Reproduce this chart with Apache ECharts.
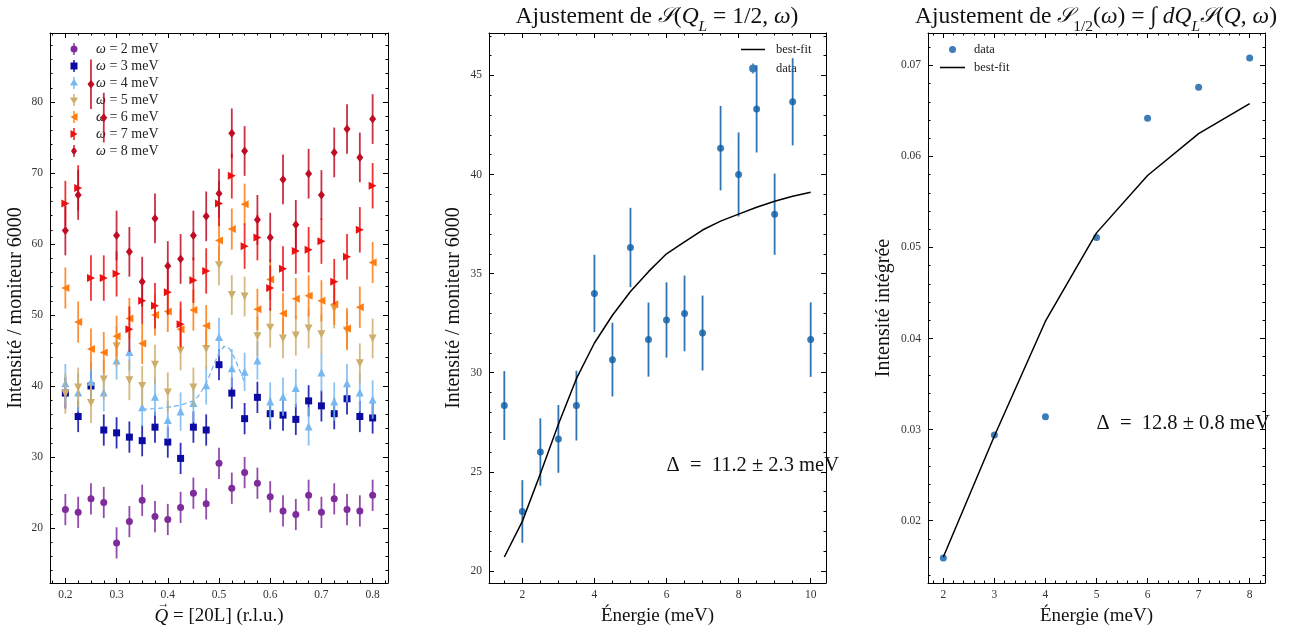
<!DOCTYPE html>
<html><head><meta charset="utf-8">
<script src="https://cdn.jsdelivr.net/npm/echarts@6/dist/echarts.min.js"></script>
<style>html,body{margin:0;padding:0;background:#fff}#c{width:1294px;height:634px}</style>
</head><body><div id="c"></div><script>
// ---------------- DATA ----------------
const qL = [0.2,0.225,0.25,0.275,0.3,0.325,0.35,0.375,0.4,0.425,0.45,0.475,0.5,0.525,0.55,0.575,0.6,0.625,0.65,0.675,0.7,0.725,0.75,0.775,0.8];
const omegaValues = [2,3,4,5,6,7,8];
const w2 = [22.6,22.2,24.1,23.6,17.9,20.9,23.9,21.6,21.2,22.9,24.9,23.4,29.1,25.6,27.8,26.3,24.4,22.4,21.9,24.6,22.2,24.1,22.6,22.4,24.6];
const w3 = [39.0,35.7,40.0,33.8,33.4,32.8,32.3,34.2,32.1,29.8,34.2,33.8,43.0,39.0,35.4,38.4,36.1,35.9,35.3,37.9,37.2,36.1,38.2,35.7,35.5];
const w4 = [40.4,39.1,40.6,39.1,43.6,44.8,37.0,38.5,35.2,36.4,37.6,40.1,46.9,42.5,42.0,43.6,37.8,38.5,39.7,34.3,41.9,37.8,40.4,39.1,38.1];
const w5 = [38.9,39.8,37.6,40.9,45.6,40.8,40.0,43.0,39.1,45.0,39.8,45.2,57.0,52.8,52.6,47.0,48.2,46.7,47.1,48.1,47.3,50.9,47.8,43.2,46.7];
const w6 = [53.8,49.0,45.2,44.7,47.0,49.5,46.0,50.0,50.5,48.0,50.7,48.5,60.5,62.1,65.6,50.8,55.0,50.2,52.3,52.7,52.0,51.5,48.1,51.1,57.4];
const w7 = [65.7,67.9,55.2,55.2,55.8,48.0,52.0,51.3,53.2,48.7,54.9,56.2,65.7,69.6,59.7,60.9,53.8,56.5,59.0,59.2,60.4,54.7,58.2,62.0,68.2];
const w8 = [61.9,66.9,82.5,77.8,61.2,58.9,54.7,63.6,56.9,57.9,61.2,63.9,67.1,75.6,73.1,63.4,60.9,69.1,62.7,69.9,66.9,72.9,76.2,72.2,77.6];
const wErr = [2.2,2.2,2.7,2.8,2.9,3.2,3.5];
// dashed fit (omega = 4)
const fitQx = [0.35,0.375,0.4,0.425,0.45,0.46,0.47,0.48,0.49,0.5,0.51,0.52,0.53,0.54,0.55];
const fitQy = [36.7,36.8,37.0,37.3,37.9,38.6,39.7,41.2,43.0,44.7,45.6,45.3,44.0,42.3,40.5];

// middle panel
const energyA = [1.5,2,2.5,3,3.5,4,4.5,5,5.5,6,6.5,7,7.5,8,8.5,9,9.5,10];
const intensA = [28.34,23.0,26.0,26.66,28.34,34.0,30.66,36.32,31.67,32.66,32.99,32.0,41.33,40.0,43.31,38.0,43.67,31.67];
const errA    = [1.74,1.58,1.7,1.71,1.76,1.95,1.86,2.0,1.87,1.9,1.91,1.89,2.13,2.12,2.2,2.05,2.2,1.88];
const fitA    = [20.7,22.5,24.9,27.4,29.7,31.5,32.9,34.1,35.1,36.0,36.6,37.2,37.65,38.0,38.35,38.65,38.9,39.1];

// right panel
const energyB = [2,3,4,5,6,7,8];
const intensB = [0.0159,0.0294,0.0314,0.0511,0.0642,0.0676,0.0708];
const fitB    = [0.0160,0.0293,0.0419,0.0516,0.0579,0.0625,0.0658];

// tick labels
const ticksX0 = [0.2,0.3,0.4,0.5,0.6,0.7,0.8];
const ticksY0 = [20,30,40,50,60,70,80];
const ticksX1 = [2,4,6,8,10];
const ticksY1 = [20,25,30,35,40,45];
const ticksX2 = [2,3,4,5,6,7,8];
const ticksY2 = [0.02,0.03,0.04,0.05,0.06,0.07];

// ---------------- STYLE ----------------
const FONT = 'Liberation Serif';
const wColors = ['#7F2B9B','#0B0BA3','#78B8F0','#CDAE6C','#FF7D12','#EC1010','#C00D25'];
const wSymbols = ['circle','rect','triangle','path://M0,0 L10,0 L5,9 Z','path://M9,0 L9,10 L0,5 Z','path://M0,0 L0,10 L9,5 Z','diamond'];
const wSizes = [7,7,8,8,8,8,[7,9]];
const BAR = ' M7.3,0 L8.7,0 L8.7,12 L7.3,12 Z';
const wLegendIcons = [
  'path://M4.5,6 A3.5,3.5 0 1 1 11.5,6 A3.5,3.5 0 1 1 4.5,6 Z' + BAR,
  'path://M4.5,2.5 L11.5,2.5 L11.5,9.5 L4.5,9.5 Z' + BAR,
  'path://M8,1.5 L12,8.5 L4,8.5 Z' + BAR,
  'path://M4,3.5 L12,3.5 L8,10.5 Z' + BAR,
  'path://M11.5,2 L11.5,10 L4.5,6 Z' + BAR,
  'path://M4.5,2 L11.5,6 L4.5,10 Z' + BAR,
  'path://M8,1.5 L11,6 L8,10.5 L5,6 Z' + BAR
];
const ICON_LINE = 'path://M0,0 L24,0 L24,1.5 L0,1.5 Z';
const ICON_DATA_ERR = 'path://M1.5,5 A3.5,3.5 0 1 1 8.5,5 A3.5,3.5 0 1 1 1.5,5 Z M4.3,0.5 L5.7,0.5 L5.7,9.5 L4.3,9.5 Z';
const ICON_DATA = 'path://M0,3.5 A3.5,3.5 0 1 1 7,3.5 A3.5,3.5 0 1 1 0,3.5 Z';
const BLUE = '#0C5DA5';

function range(a, b, s) { const out = []; const n = Math.round((b - a) / s); for (let i = 0; i <= n; i++) out.push(+(a + i * s).toFixed(6)); return out; }

function axes(dim, grid, min, max, major, minor, decimals, name, nameGap) {
  const posA = dim === 'x' ? 'bottom' : 'left';
  const posB = dim === 'x' ? 'top' : 'right';
  const fs = dim === 'x' ? 19 : 20;
  const line = { show: true, lineStyle: { color: '#000', width: 1 } };
  const base = { type: 'value', gridIndex: grid, min: min, max: max, splitLine: { show: false } };
  const tick = (vals, len) => ({ show: true, inside: true, length: len, customValues: vals, lineStyle: { color: '#000', width: 1 } });
  const main = Object.assign({}, base, {
    position: posA, axisLine: line, axisTick: tick(major, 5),
    axisLabel: { show: true, customValues: major, formatter: v => (+v).toFixed(decimals), fontFamily: FONT, fontSize: 11.5, color: '#333', margin: dim === 'x' ? 6 : 7 },
    name: name, nameLocation: 'middle', nameGap: nameGap,
    nameTextStyle: { fontFamily: FONT, fontSize: fs, color: '#111', rich: { i: { fontFamily: FONT, fontSize: fs, fontStyle: 'italic', color: '#111' } } }
  });
  const mnr = Object.assign({}, base, { position: posA, axisLine: { show: false }, axisTick: tick(minor, 2.5), axisLabel: { show: false } });
  const opp = Object.assign({}, base, { position: posB, axisLine: line, axisTick: tick(major, 5), axisLabel: { show: false } });
  const oppm = Object.assign({}, base, { position: posB, axisLine: { show: false }, axisTick: tick(minor, 2.5), axisLabel: { show: false } });
  return [main, mnr, opp, oppm];
}

const xAxes = [].concat(
  axes('x', 0, 0.17, 0.83, ticksX0, range(0.175, 0.825, 0.025), 1, '{i|Q} = [20L] (r.l.u.)', 24),
  axes('x', 1, 1.075, 10.425, ticksX1, range(1.5, 10, 0.5), 0, 'Énergie (meV)', 24),
  axes('x', 2, 1.7, 8.3, ticksX2, range(1.8, 8.2, 0.2), 0, 'Énergie (meV)', 24)
);
const yAxes = [].concat(
  axes('y', 0, 12.25, 89.72, ticksY0, range(14, 88, 2), 0, 'Intensité / moniteur 6000', 24),
  axes('y', 1, 19.39, 47.14, ticksY1, range(20, 47, 1), 0, 'Intensité / moniteur 6000', 25),
  axes('y', 2, 0.01315, 0.07355, ticksY2, range(0.014, 0.072, 0.002), 2, 'Intensité intégrée', 34)
);

function errSeries(xIdx, data, color, width, opacity, z) {
  return {
    type: 'custom', xAxisIndex: xIdx, yAxisIndex: xIdx, data: data, z: z, clip: true, silent: true,
    encode: { x: 0, y: 1 },
    renderItem: function (params, api) {
      const x = api.value(0), y = api.value(1), e = api.value(2);
      const p1 = api.coord([x, y - e]), p2 = api.coord([x, y + e]);
      return { type: 'line', shape: { x1: p1[0], y1: p1[1], x2: p2[0], y2: p2[1] }, style: { stroke: color, lineWidth: width, opacity: opacity } };
    }
  };
}

const seriesW = [w2, w3, w4, w5, w6, w7, w8];
const series = [];
const leftLegendData = [];
seriesW.forEach((vals, k) => {
  const name = 'ω = ' + omegaValues[k] + ' meV';
  leftLegendData.push({ name: name, icon: wLegendIcons[k] });
  series.push(errSeries(0, qL.map((q, i) => [q, vals[i], wErr[k]]), wColors[k], 1.8, 0.85, 2 + k * 2));
  series.push({
    type: 'scatter', name: name, xAxisIndex: 0, yAxisIndex: 0, z: 3 + k * 2,
    symbol: wSymbols[k], symbolSize: wSizes[k],
    itemStyle: { color: wColors[k], opacity: 1 },
    data: qL.map((q, i) => [q, vals[i]])
  });
  if (k === 2) {
    series.push({
      type: 'line', xAxisIndex: 0, yAxisIndex: 0, z: 7, showSymbol: false, symbol: 'none', silent: true,
      lineStyle: { color: wColors[2], width: 1.3, type: [5, 3] },
      data: fitQx.map((q, i) => [q, fitQy[i]])
    });
  }
});

// middle
series.push(errSeries(4, energyA.map((e, i) => [e, intensA[i], errA[i]]), BLUE, 1.8, 0.85, 20));
series.push({ type: 'scatter', name: 'data', xAxisIndex: 4, yAxisIndex: 4, z: 21, symbol: 'circle', symbolSize: 7, itemStyle: { color: BLUE }, data: energyA.map((e, i) => [e, intensA[i]]) });
series.push({ type: 'line', name: 'best-fit', xAxisIndex: 4, yAxisIndex: 4, z: 22, symbol: 'none', showSymbol: false, lineStyle: { color: '#000', width: 1.5 }, itemStyle: { color: '#000' }, data: energyA.map((e, i) => [e, fitA[i]]) });

// right
series.push({ type: 'scatter', name: 'data', xAxisIndex: 8, yAxisIndex: 8, z: 21, symbol: 'circle', symbolSize: 7, itemStyle: { color: BLUE }, data: energyB.map((e, i) => [e, intensB[i]]) });
series.push({ type: 'line', name: 'best-fit', xAxisIndex: 8, yAxisIndex: 8, z: 22, symbol: 'none', showSymbol: false, lineStyle: { color: '#000', width: 1.5 }, itemStyle: { color: '#000' }, data: energyB.map((e, i) => [e, fitB[i]]) });

const legendText = { fontFamily: FONT, fontSize: 14, color: '#222', lineHeight: 12, padding: [0, 0, 0, 9], rich: { i: { fontFamily: FONT, fontSize: 14, fontStyle: 'italic', color: '#222', lineHeight: 12 } } };
const smallLegendText = { fontFamily: FONT, fontSize: 12.5, color: '#222', lineHeight: 12 };

const titleRich = {
  s: { fontFamily: 'DejaVu Serif', fontSize: 21, fontStyle: 'italic', fill: '#111' },
  i: { fontFamily: FONT, fontSize: 23.5, fontStyle: 'italic', fill: '#111' },
  sub: { fontFamily: FONT, fontSize: 15.5, fill: '#111', verticalAlign: 'bottom', lineHeight: 15, padding: [0, 0, -6, 0] },
  isub: { fontFamily: FONT, fontSize: 15.5, fontStyle: 'italic', fill: '#111', verticalAlign: 'bottom', lineHeight: 15, padding: [0, 0, -6, 0] }
};

const chart = echarts.init(document.getElementById('c'), null, { renderer: 'canvas' });
chart.setOption({
  animation: false,
  backgroundColor: '#fff',
  grid: [
    { left: 50, top: 33, width: 338, height: 550 },
    { left: 489, top: 33, width: 337, height: 550 },
    { left: 928, top: 33, width: 337, height: 550 }
  ],
  xAxis: xAxes,
  yAxis: yAxes,
  legend: [
    { orient: 'vertical', left: 70, top: 42, padding: 0, itemWidth: 16, itemHeight: 12, itemGap: 3, data: leftLegendData, textStyle: legendText, formatter: n => n.replace('ω', '{i|ω}') },
    { orient: 'vertical', left: 741, top: 43, padding: 0, itemWidth: 24, itemHeight: 10, itemGap: 6, data: [{ name: 'best-fit', icon: ICON_LINE }, { name: 'data', icon: ICON_DATA_ERR }], textStyle: Object.assign({}, smallLegendText, { padding: [0, 0, 0, 6] }) },
    { orient: 'vertical', left: 940, top: 43, padding: 0, itemWidth: 25, itemHeight: 7, itemGap: 5, data: [{ name: 'data', icon: ICON_DATA }, { name: 'best-fit', icon: ICON_LINE }], textStyle: Object.assign({}, smallLegendText, { padding: [0, 0, 0, 4] }) }
  ],
  series: series
});

function px(axisIdx, xv, yv) {
  return [chart.convertToPixel({ xAxisIndex: axisIdx }, xv), chart.convertToPixel({ yAxisIndex: axisIdx }, yv)];
}
const pA = px(4, 6, 25.0);
const pB = px(8, 5, 0.030);

// arrow over the Q of the x-axis name of the left panel
const cv = document.createElement('canvas').getContext('2d');
cv.font = 'italic 19px "Liberation Serif"';
const wQ = cv.measureText('Q').width;
cv.font = '19px "Liberation Serif"';
const wRest = cv.measureText(' = [20L] (r.l.u.)').width;
const xMid = chart.convertToPixel({ xAxisIndex: 0 }, 0.5);
const qLeft = xMid - (wQ + wRest) / 2;

chart.setOption({
  graphic: [
    { type: 'text', id: 't1', x: 657, y: 17, z: 100, style: { text: 'Ajustement de {s|𝒮}({i|Q}{isub|L} = 1/2, {i|ω})', textAlign: 'center', textVerticalAlign: 'middle', fontFamily: FONT, fontSize: 23.5, fill: '#111', rich: titleRich } },
    { type: 'text', id: 't2', x: 1096, y: 17, z: 100, style: { text: 'Ajustement de {s|𝒮}{sub|1/2}({i|ω}) = ∫ {i|dQ}{isub|L}{s|𝒮}({i|Q}, {i|ω})', textAlign: 'center', textVerticalAlign: 'middle', fontFamily: FONT, fontSize: 23.5, fill: '#111', rich: titleRich } },
    { type: 'text', id: 'a1', x: pA[0], y: pA[1] - 6, z: 100, style: { text: 'Δ  =  11.2 ± 2.3 meV', textAlign: 'left', textVerticalAlign: 'middle', fontFamily: FONT, fontSize: 20.5, fill: '#111' } },
    { type: 'text', id: 'a2', x: pB[0], y: pB[1] - 6, z: 100, style: { text: 'Δ  =  12.8 ± 0.8 meV', textAlign: 'left', textVerticalAlign: 'middle', fontFamily: FONT, fontSize: 20.5, fill: '#111' } },
    { type: 'text', id: 'qarrow', x: qLeft + wQ / 2 + 2, y: 604, z: 100, style: { text: '→', textAlign: 'center', textVerticalAlign: 'middle', fontFamily: FONT, fontSize: 12, fill: '#111' } }
  ]
});
</script></body></html>
